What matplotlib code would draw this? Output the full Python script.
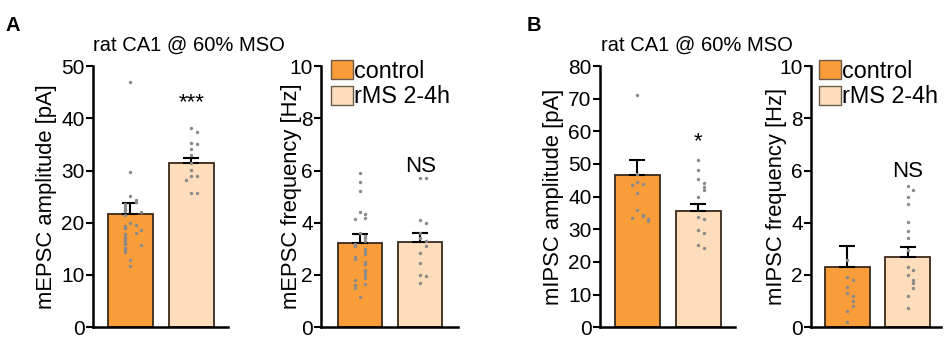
import numpy as np
import matplotlib
matplotlib.use("Agg")
import matplotlib.pyplot as plt
from matplotlib.patches import Patch

plt.rcParams['font.family'] = ['Liberation Sans', 'DejaVu Sans']

groups = ["control", "rMS 2-4h"]
ctrl_color = "#F99D3B"
rms_color = "#FDDDBB"

# --- A: mEPSC ---
epsc_amp_means = [21.7, 31.4]
epsc_amp_sem = [2.0, 1.0]
epsc_amp_ctrl = [47.0, 29.8, 25.1, 24.3, 24.0, 23.6, 23.2, 22.8, 22.5, 22.2, 22.0,
                 21.5, 20.0, 19.5, 19.3, 19.0, 18.6, 18.0, 17.8, 17.3, 17.0, 16.6,
                 16.3, 16.0, 15.7, 15.2, 14.8, 14.4, 12.8, 11.8]
epsc_amp_rms = [38.2, 37.4, 35.2, 35.1, 34.1, 33.0, 31.4, 30.1, 29.0, 28.9, 28.1,
                25.7, 25.6]

epsc_freq_means = [3.22, 3.27]
epsc_freq_sem = [0.33, 0.33]
epsc_freq_ctrl = [5.9, 5.55, 5.2, 4.4, 4.35, 4.2, 4.15, 3.6, 3.5, 3.4, 3.3, 3.2,
                  3.1, 3.0, 2.9, 2.8, 2.7, 2.6, 2.5, 2.4, 2.2, 2.1, 2.0, 1.9, 1.8,
                  1.65, 1.6, 1.5, 1.15]
epsc_freq_rms = [5.7, 5.7, 4.1, 4.0, 3.6, 3.4, 3.3, 3.1, 2.85, 2.45, 2.0, 1.95, 1.7]

# --- B: mIPSC ---
ipsc_amp_means = [46.5, 35.7]
ipsc_amp_sem = [4.8, 2.1]
ipsc_amp_ctrl = [71.0, 47.0, 44.5, 44.0, 43.5, 41.0, 36.0, 34.5, 34.0, 33.5, 33.0, 32.5]
ipsc_amp_rms = [51.1, 48.2, 45.4, 44.3, 43.1, 41.9, 39.9, 33.9, 33.1, 29.9, 29.0,
                25.3, 24.3]

ipsc_freq_means = [2.3, 2.68]
ipsc_freq_sem = [0.8, 0.38]
ipsc_freq_ctrl = [2.58, 1.92, 1.8, 1.55, 1.29, 1.2, 1.0, 0.8, 0.6, 0.2]
ipsc_freq_rms = [5.42, 5.25, 5.0, 4.7, 4.02, 3.7, 3.4, 2.94, 2.3, 2.2, 2.0, 1.8,
                 1.7, 1.5, 1.2, 0.75]


def swarm_offsets(vals, tol, dx=0.09):
    # spread points with similar values sideways, alternating left/right
    offs = []
    placed = []
    for v in vals:
        n = sum(1 for p in placed if abs(p - v) < tol)
        k = (n + 1) // 2
        offs.append(0 if n == 0 else (k * dx if n % 2 else -k * dx))
        placed.append(v)
    return np.array(offs)


def bar_panel(rect, means, sem, pts, ylim, yticks, ylabel, xlim, sig, sig_y,
              label_x=None):
    ax = fig.add_axes(rect)
    ax.bar([0, 1], means, width=0.74, color=[ctrl_color, rms_color],
           edgecolor="#3a2a1a", linewidth=1.3, zorder=1)
    for i in range(2):
        ax.errorbar(i, means[i], yerr=[[0], [sem[i]]], color="black", capsize=5.5,
                    capthick=1.5, elinewidth=1.5, zorder=3)
        tol = (ylim[1] - ylim[0]) * 0.02
        xs = i + swarm_offsets(pts[i], tol)
        ax.scatter(xs, pts[i], s=6, color="#8a8a8a", zorder=4, linewidths=0)
    ax.set_xlim(*xlim)
    ax.set_ylim(*ylim)
    ax.set_yticks(yticks)
    ax.set_xticks([])
    ax.tick_params(axis="y", labelsize=15, width=1.5, length=5, pad=1)
    for s in ["top", "right"]:
        ax.spines[s].set_visible(False)
    for s in ["left", "bottom"]:
        ax.spines[s].set_linewidth(1.8)
    ax.set_ylabel(ylabel, fontsize=15.8, labelpad=3)
    if label_x is not None:
        # frequency labels sit close to the axis, next to the short tick labels
        ax.yaxis.set_label_coords(label_x, 0.5)
    ax.text(1, sig_y, sig, ha="center", va="bottom", fontsize=16)
    return ax


fig = plt.figure(figsize=(9.48, 3.39), dpi=100)
bot, h = 0.035, 0.770

bar_panel([93 / 948, bot, 135 / 948, h], epsc_amp_means, epsc_amp_sem,
          [epsc_amp_ctrl, epsc_amp_rms], (0, 50), range(0, 51, 10),
          "mEPSC amplitude [pA]", (-0.61, 1.6), "***", 41.0)
ax2 = bar_panel([321 / 948, bot, 137 / 948, h], epsc_freq_means, epsc_freq_sem,
                [epsc_freq_ctrl, epsc_freq_rms], (0, 10), range(0, 11, 2),
                "mEPSC frequency [Hz]", (-0.65, 1.63), "NS", 5.75,
                label_x=-0.14)
bar_panel([600 / 948, bot, 135 / 948, h], ipsc_amp_means, ipsc_amp_sem,
          [ipsc_amp_ctrl, ipsc_amp_rms], (0, 80), range(0, 81, 10),
          "mIPSC amplitude [pA]", (-0.61, 1.6), "*", 53.5)
ax4 = bar_panel([811 / 948, bot, 130 / 948, h], ipsc_freq_means, ipsc_freq_sem,
                [ipsc_freq_ctrl, ipsc_freq_rms], (0, 10), range(0, 11, 2),
                "mIPSC frequency [Hz]", (-0.6, 1.55), "NS", 5.55,
                label_x=-0.185)

handles = [Patch(facecolor=ctrl_color, edgecolor="#6b5a48", label=groups[0]),
           Patch(facecolor=rms_color, edgecolor="#6b5a48", label=groups[1])]
for ax, x0 in ((ax2, 0.075), (ax4, 0.06)):
    ax.legend(handles=handles, loc="upper left", bbox_to_anchor=(x0, 1.025),
              frameon=False, fontsize=16.8, handlelength=0.93, handleheight=0.9,
              handletextpad=0.05, labelspacing=0.12, borderaxespad=0,
              borderpad=0)

# panel titles and letters
fig.text(189 / 948, 1 - 45 / 339, "rat CA1 @ 60% MSO", fontsize=14.5,
         ha="center", va="center")
fig.text(697 / 948, 1 - 45 / 339, "rat CA1 @ 60% MSO", fontsize=14.5,
         ha="center", va="center")
fig.text(0.006, 0.952, "A", fontsize=14.5, fontweight="bold", va="top")
fig.text(0.556, 0.952, "B", fontsize=14.5, fontweight="bold", va="top")

fig.savefig("out.png", dpi=100)
